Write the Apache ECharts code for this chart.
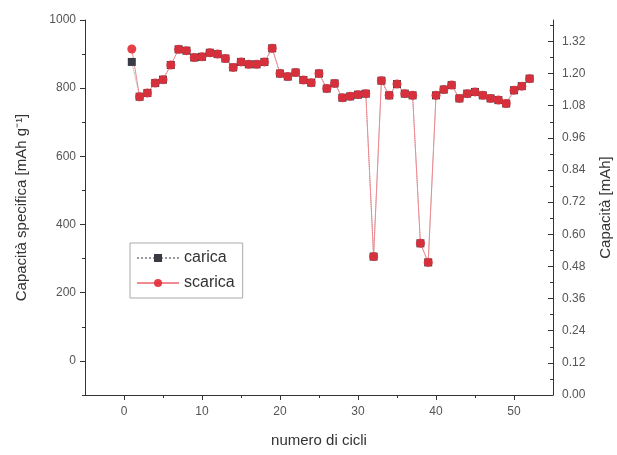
<!DOCTYPE html>
<html>
<head>
<meta charset="utf-8">
<script src="https://cdn.jsdelivr.net/npm/echarts@6/dist/echarts.min.js"></script>
<style>
  html, body { margin: 0; padding: 0; background: #fff; }
  #chart { width: 617px; height: 455px; }
</style>
</head>
<body>
<div id="chart"></div>
<script>
var cycles = [1, 2, 3, 4, 5, 6, 7, 8, 9, 10, 11, 12, 13, 14, 15, 16, 17, 18, 19, 20,
  21, 22, 23, 24, 25, 26, 27, 28, 29, 30, 31, 32, 33, 34, 35, 36, 37, 38, 39, 40,
  41, 42, 43, 44, 45, 46, 47, 48, 49, 50, 51, 52];
var carica = [877, 775, 786, 815, 825, 868, 914, 910, 890, 892, 904, 900, 887, 861, 877, 870, 870, 877, 917, 843,
  834, 846, 824, 816, 843, 799, 814, 772, 776, 781, 784, 306, 822, 779, 812, 784, 779, 345, 289, 779,
  796, 809, 770, 784, 789, 779, 770, 765, 755, 794, 806, 828];
var scarica = [915, 775, 786, 815, 825, 868, 914, 910, 890, 892, 904, 900, 887, 861, 877, 870, 870, 877, 917, 843,
  834, 846, 824, 816, 843, 799, 814, 772, 776, 781, 784, 306, 822, 779, 812, 784, 779, 345, 289, 779,
  796, 809, 770, 784, 789, 779, 770, 765, 755, 794, 806, 828];
var xTicks = [0, 10, 20, 30, 40, 50];
var xMinorTicks = [5, 15, 25, 35, 45];
var leftTicks = [0, 200, 400, 600, 800, 1000];
var leftMinorTicks = [-100, 100, 300, 500, 700, 900];
var rightTicks = [0, 0.12, 0.24, 0.36, 0.48, 0.60, 0.72, 0.84, 0.96, 1.08, 1.20, 1.32];
var rightMinorTicks = [0.06, 0.18, 0.30, 0.42, 0.54, 0.66, 0.78, 0.90, 1.02, 1.14, 1.26, 1.38];

function pairs(ys) {
  return cycles.map(function (c, i) { return [c, ys[i]]; });
}

var lineColor = '#333';
var labelStyle = { color: '#555', fontSize: 12, fontFamily: 'Liberation Sans, Arial, sans-serif' };
var nameStyle = { color: '#333', fontSize: 15, fontFamily: 'Liberation Sans, Arial, sans-serif' };

var chart = echarts.init(document.getElementById('chart'));
chart.setOption({
  animation: false,
  grid: { left: 85, right: 64, top: 20, bottom: 60, outerBoundsMode: 'none' },
  legend: {
    left: 130, top: 243, orient: 'vertical',
    borderColor: '#aaa', borderWidth: 1, padding: [7, 8, 7, 6], itemGap: 9,
    itemWidth: 42, itemHeight: 10,
    textStyle: { color: '#333', fontSize: 16, fontFamily: 'Liberation Sans, Arial, sans-serif' },
    data: ['carica', 'scarica']
  },
  xAxis: [{
    type: 'value', min: -5, max: 55,
    name: 'numero di cicli', nameLocation: 'middle', nameGap: 38, nameTextStyle: nameStyle,
    axisLine: { show: true, onZero: false, lineStyle: { color: lineColor } },
    axisTick: { show: true, length: 5, customValues: xTicks, lineStyle: { color: lineColor } },
    axisLabel: Object.assign({ customValues: xTicks, margin: 11 }, labelStyle),
    splitLine: { show: false }
  }, {
    type: 'value', min: -5, max: 55, position: 'bottom',
    axisLine: { show: false, onZero: false },
    axisTick: { show: true, length: 3, customValues: xMinorTicks, lineStyle: { color: lineColor } },
    axisLabel: { show: false },
    splitLine: { show: false }
  }],
  yAxis: [{
    type: 'value', min: -100, max: 1000, position: 'left',
    name: 'Capacità specifica [mAh g\u207B\u00B9]', nameLocation: 'middle', nameGap: 56, nameTextStyle: nameStyle,
    axisLine: { show: true, onZero: false, lineStyle: { color: lineColor } },
    axisTick: { show: true, length: 5, customValues: leftTicks, lineStyle: { color: lineColor } },
    axisLabel: Object.assign({
      customValues: leftTicks, margin: 9,
      formatter: function (v) { return String(v); }
    }, labelStyle),
    splitLine: { show: false }
  }, {
    type: 'value', min: -100, max: 1000, position: 'left',
    axisLine: { show: false, onZero: false },
    axisTick: { show: true, length: 3, customValues: leftMinorTicks, lineStyle: { color: lineColor } },
    axisLabel: { show: false },
    splitLine: { show: false }
  }, {
    type: 'value', min: 0, max: 1.4, position: 'right',
    name: 'Capacità [mAh]', nameLocation: 'middle', nameGap: 45, nameRotate: 90, nameTextStyle: nameStyle,
    axisLine: { show: true, onZero: false, lineStyle: { color: lineColor } },
    axisTick: { show: true, inside: true, length: 5, customValues: rightTicks, lineStyle: { color: lineColor } },
    axisLabel: Object.assign({
      customValues: rightTicks, margin: 9,
      formatter: function (v) { return v.toFixed(2); }
    }, labelStyle),
    splitLine: { show: false }
  }, {
    type: 'value', min: 0, max: 1.4, position: 'right',
    axisLine: { show: false, onZero: false },
    axisTick: { show: true, inside: true, length: 3, customValues: rightMinorTicks, lineStyle: { color: lineColor } },
    axisLabel: { show: false },
    splitLine: { show: false }
  }],
  series: [{
    name: 'carica', type: 'line', data: pairs(carica),
    symbol: 'rect', symbolSize: 8,
    itemStyle: { color: '#3a3a44' },
    lineStyle: { color: '#9a9aa0', width: 1, type: 'dotted' }
  }, {
    name: 'scarica', type: 'line', data: pairs(scarica),
    symbol: 'circle', symbolSize: 9,
    itemStyle: { color: '#e3303b', opacity: 0.92 },
    lineStyle: { color: '#f08a90', width: 1 }
  }]
});
</script>
</body>
</html>
